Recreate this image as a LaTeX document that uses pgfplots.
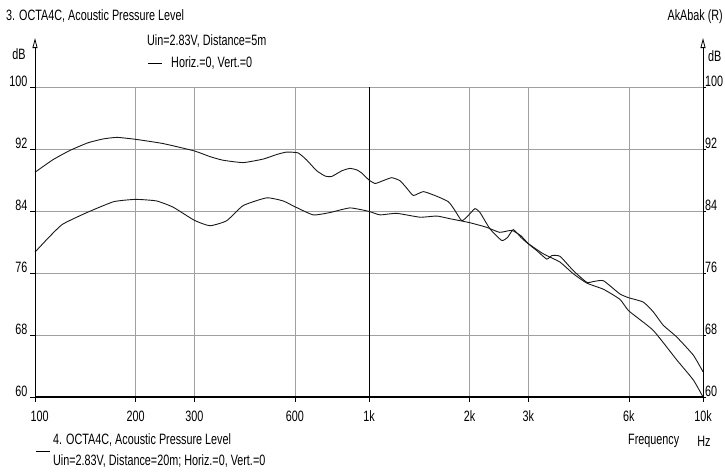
\documentclass[border=0pt]{standalone}
\usepackage{fontspec}
\setmainfont{Liberation Sans}[FakeStretch=0.72]
\usepackage{pgfplots}
\pgfplotsset{compat=1.18}
\usetikzlibrary{arrows.meta}
\definecolor{gridgray}{RGB}{160,160,160}
\newcommand{\fs}{\fontsize{15}{16}\selectfont}

\pgfplotstableread{
f dB
100 89.0
113 90.6
127 91.8
144 92.8
160 93.3
176 93.5
200 93.25
242 92.7
300 91.75
335 91.0
366 90.55
420 90.25
482 90.7
530 91.3
566 91.6
613 91.5
650 90.6
697 89.2
740 88.5
773 88.45
830 89.2
877 89.5
920 89.3
951 88.9
1000 88.0
1043 87.55
1100 87.9
1169 88.3
1239 87.9
1300 86.9
1358 86.0
1455 86.5
1596 85.9
1728 85.2
1800 84.2
1895 82.75
1980 83.4
2075 84.3
2150 83.8
2302 81.7
2496 80.2
2600 80.6
2704 81.6
2850 80.6
2990 79.8
3177 78.9
3404 77.8
3530 78.25
3733 78.15
4090 76.3
4487 74.8
4700 74.9
5034 75.0
5638 73.3
6000 72.8
6623 72.25
7094 71.0
7608 69.25
8340 67.75
9354 65.4
10000 63.25
}\fivem

\pgfplotstableread{
f dB
100 78.7
110 80.6
121 82.3
143 83.8
172 85.2
200 85.5
231 85.3
259 84.5
300 82.8
334 82.1
375 82.75
420 84.7
494 85.7
553 85.3
600 84.55
681 83.5
764 83.8
877 84.4
1000 83.95
1079 83.5
1210 83.7
1422 83.2
1596 83.35
1750 83.0
2000 82.5
2249 81.9
2460 81.25
2675 81.5
2850 80.8
3000 79.8
3289 78.6
3404 78.25
3733 77.4
4090 75.9
4487 74.7
5034 73.9
5640 72.6
6000 71.1
7094 68.6
8340 64.8
9354 62.2
10000 60.0
}\twentym

\begin{document}
\begin{tikzpicture}
\path[use as bounding box] (0pt,0pt) rectangle (725pt,-472pt);
\begin{axis}[
  at={(35pt,-397pt)}, anchor=south west,
  scale only axis, width=668pt, height=310pt,
  xmode=log, xmin=100, xmax=10000, ymin=60, ymax=100,
  xtick={100,200,300,600,2000,3000,6000,10000},
  xticklabels={\hspace*{9pt}100,200,300,600,2k,3k,6k,10k},
  extra x ticks={1000}, extra x tick labels={1k},
  extra x tick style={grid style={black, line width=0.8pt}},
  ytick={60,68,76,84,92,100},
  xminorticks=false, yminorticks=false,
  grid=major,
  grid style={gridgray, line width=0.8pt},
  axis line style={draw=none},
  tick align=outside,
  major tick length=5pt,
  tick style={black, line width=0.6pt},
  xtick pos=bottom, ytick pos=left,
  ticklabel style={font=\fs},
  /pgf/number format/assume math mode=true,
  xticklabel style={anchor=north, yshift=-5pt},
  yticklabel style={anchor=east, yshift=6pt, xshift=1pt},
  clip=false,
]
\addplot[black!90, line width=0.9pt, smooth, tension=0.3] table[x=f, y=dB] {\fivem};
\addplot[black!90, line width=0.9pt, smooth, tension=0.3] table[x=f, y=dB] {\twentym};
\draw[black, line width=1.6pt] (rel axis cs:0,0) -- (rel axis cs:1,0);
\draw[black, line width=0.8pt, -{Triangle[open, length=10pt, width=5pt]}] (rel axis cs:0,0) -- (rel axis cs:0,1.158);
\draw[black, line width=0.8pt, -{Triangle[open, length=10pt, width=5pt]}] (rel axis cs:1,0) -- (rel axis cs:1,1.158);
\end{axis}
\begin{axis}[
  at={(35pt,-397pt)}, anchor=south west,
  scale only axis, width=668pt, height=310pt,
  xmode=log, xmin=100, xmax=10000, ymin=60, ymax=100,
  hide x axis, axis y line*=right,
  axis line style={draw=none},
  ytick={60,68,76,84,92,100},
  yminorticks=false,
  tick align=outside,
  major tick length=3pt,
  tick style={black, line width=0.6pt},
  ticklabel style={font=\fs},
  /pgf/number format/assume math mode=true,
  yticklabel style={anchor=west, yshift=6pt, xshift=-4.5pt},
]
\addplot[draw=none] coordinates {(100,60)};
\end{axis}
\begin{scope}[every node/.style={inner sep=0pt, font=\fs}]
\node[anchor=west] at (6pt,-16pt) {3. OCTA4C, Acoustic Pressure Level};
\node[anchor=west] at (147pt,-41pt) {Uin=2.83V, Distance=5m};
\draw[black, line width=1pt] (148pt,-63pt) -- (162pt,-63pt);
\node[anchor=west] at (171pt,-63pt) {Horiz.=0, Vert.=0};
\node at (19pt,-54pt) {dB};
\node[anchor=east] at (723pt,-17pt) {AkAbak (R)};
\node[anchor=west] at (708pt,-56pt) {dB};
\node[anchor=west] at (628pt,-441pt) {Frequency};
\node at (704pt,-441pt) {Hz};
\draw[black, line width=1pt] (36pt,-451pt) -- (50pt,-451pt);
\node[anchor=west] at (53pt,-440pt) {4. OCTA4C, Acoustic Pressure Level};
\node[anchor=west] at (53pt,-461pt) {Uin=2.83V, Distance=20m; Horiz.=0, Vert.=0};
\end{scope}
\end{tikzpicture}
\end{document}
